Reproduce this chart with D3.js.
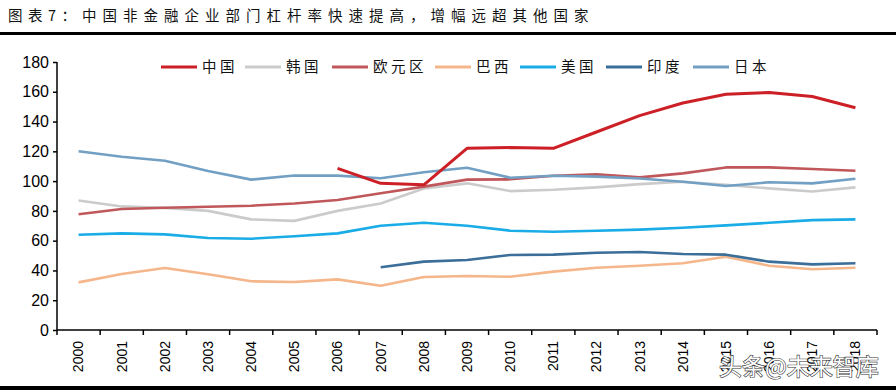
<!DOCTYPE html>
<html><head><meta charset="utf-8">
<script src="https://cdn.jsdelivr.net/npm/d3@7"></script>
<style>
html,body{margin:0;padding:0;background:#fff;}
svg{display:block;}
</style></head>
<body>
<svg id="chart" width="896" height="392"></svg>
<script>
const years = ["2000","2001","2002","2003","2004","2005","2006","2007","2008","2009","2010","2011","2012","2013","2014","2015","2016","2017","2018"];
const seriesNames = ["中国","韩国","欧元区","巴西","美国","印度","日本"];
const seriesColors = ["#CC1F26","#CBCBCB","#C0575A","#F4B68A","#19ACE6","#3B6E98","#72A0C4"];
const chinaVals = [null,null,null,null,null,null,108.5,98.5,97.5,122,122.5,122,133,144,152.5,158.3,159.5,156.8,149.3];
const koreaVals = [87,83,82,80,74.3,73.3,80,85,95,98.5,93.3,94.2,95.8,98,99.6,97.5,95.1,93,95.8];
const euroVals = [77.7,81.3,82.1,82.8,83.5,85,87.3,91.8,96.3,101,101.2,103.6,104.5,102.5,105.2,109.2,109.2,108.1,107];
const brazilVals = [32,37.6,41.6,37.4,32.7,32.2,34,29.7,35.6,36.3,35.8,39.2,41.8,43.2,44.8,49.2,43.2,40.8,41.8];
const usaVals = [64,64.9,64.2,61.8,61.3,63,64.9,70,72,70,66.7,66,66.7,67.4,68.7,70.3,72,73.8,74.3];
const indiaVals = [null,null,null,null,null,null,null,42.1,45.9,47,50.4,50.6,51.9,52.4,51,50.6,45.9,44.1,44.8];
const japanVals = [120,116.4,113.7,106.8,101,103.8,103.7,101.9,106,109,102.3,103.6,103,101.8,99.6,96.7,99.2,98.5,101.6];
const yTicks = [0,20,40,60,80,100,120,140,160,180];
const titleLabel = "图表7：";
const titleText = "中国非金融企业部门杠杆率快速提高，增幅远超其他国家";
const watermark = "头条@未来智库";

const allVals = [chinaVals,koreaVals,euroVals,brazilVals,usaVals,indiaVals,japanVals];
const svg = d3.select("#chart");

// title
svg.append("text").attr("x",8).attr("y",21)
  .attr("font-family","'Noto Sans CJK SC'").attr("font-size",14.5)
  .attr("letter-spacing","5.5px").attr("fill","#111").text(titleLabel);
svg.append("text").attr("x",82).attr("y",21)
  .attr("font-family","'Noto Sans CJK SC'").attr("font-size",14.5)
  .attr("letter-spacing","6px").attr("fill","#111").text(titleText);
svg.append("rect").attr("x",0).attr("y",32).attr("width",896).attr("height",3).attr("fill","#000");
svg.append("rect").attr("x",0).attr("y",386).attr("width",896).attr("height",4).attr("fill","#000");

const pLeft = 57, pRight = 877, pTop = 62, pBottom = 330;
const x = d3.scaleBand().domain(years).range([pLeft,pRight]);
const y = d3.scaleLinear().domain([0,180]).range([pBottom,pTop]);

// y axis
const yAxis = svg.append("g").attr("transform",`translate(${pLeft},0)`)
  .call(d3.axisLeft(y).tickValues(yTicks).tickSize(4).tickPadding(4));
yAxis.selectAll("text").attr("font-family","'Liberation Sans', Arial").attr("font-size",16).attr("fill","#000");
yAxis.selectAll("line,path").attr("stroke","#000").attr("stroke-width",1.5);
yAxis.select(".domain").attr("d",`M0,${pTop}V${pBottom}`);

// x axis
const xAxis = svg.append("g").attr("transform",`translate(0,${pBottom})`)
  .call(d3.axisBottom(x).tickSize(0).tickPadding(0));
xAxis.select(".domain").attr("d",`M${pLeft},0H${pRight}`).attr("stroke","#000").attr("stroke-width",1.5);
xAxis.selectAll(".tick text")
  .attr("font-family","'Liberation Sans', Arial").attr("font-size",14).attr("fill","#000")
  .attr("text-anchor","end").attr("dy","0.35em")
  .attr("transform","translate(0,11) rotate(-90)");
// boundary ticks
const bounds = years.map(d=>x(d)).concat([pRight]);
svg.append("g").selectAll("line").data(bounds).join("line")
  .attr("x1",d=>d).attr("x2",d=>d).attr("y1",pBottom).attr("y2",pBottom+5)
  .attr("stroke","#000").attr("stroke-width",1.5);

// lines
const line = d3.line()
  .defined(d=>d.v!=null)
  .x(d=>x(d.year)+x.bandwidth()/2)
  .y(d=>y(d.v));
const drawOrder = [1,2,3,4,5,6,0];
drawOrder.forEach(i=>{
  const data = years.map((yr,j)=>({year:yr,v:allVals[i][j]}));
  svg.append("path").datum(data).attr("d",line)
    .attr("fill","none").attr("stroke",seriesColors[i])
    .attr("stroke-width", i===0?3:2.6).attr("stroke-linejoin","round");
});

// legend
const legX = [161,245,332,435,520,606,693];
const lg = svg.append("g");
seriesNames.forEach((n,i)=>{
  lg.append("line").attr("x1",legX[i]).attr("x2",legX[i]+36).attr("y1",67).attr("y2",67)
    .attr("stroke",seriesColors[i]).attr("stroke-width",3);
  lg.append("text").attr("x",legX[i]+41).attr("y",72)
    .attr("font-family","'Noto Sans CJK SC'").attr("font-size",14.5)
    .attr("letter-spacing","3.5px").attr("fill","#111").text(n);
});

// watermark
svg.append("text").attr("x",719).attr("y",375)
  .attr("font-family","'Noto Sans CJK SC'").attr("font-size",23)
  .attr("fill","#fff").attr("stroke","#333").attr("stroke-width",1.2)
  .attr("paint-order","stroke").text(watermark);
</script>
</body></html>
